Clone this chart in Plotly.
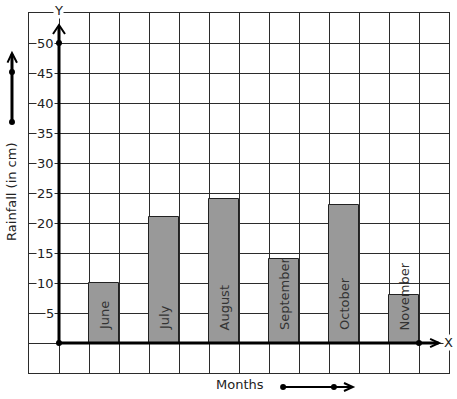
import plotly.graph_objects as go

months = ["June", "July", "August", "September", "October", "November"]
rainfall = [10, 21, 24, 14, 23, 8]
y_ticks = [5, 10, 15, 20, 25, 30, 35, 40, 45, 50]

FONT = "DejaVu Sans"
TXT = "#222222"
GRID = "#2b2b2b"

# bar centres: one empty cell between consecutive bars
xpos = [1.5 + 2 * i for i in range(len(months))]

fig = go.Figure()
fig.add_trace(go.Bar(
    x=xpos, y=rainfall, width=1,
    marker=dict(color="#999999", line=dict(color="#222222", width=1)),
    hoverinfo="skip", showlegend=False,
))
# origin / axis dots
fig.add_trace(go.Scatter(
    x=[0, 0, 12], y=[0, 50, 0], mode="markers",
    marker=dict(color="black", size=6), cliponaxis=False,
    hoverinfo="skip", showlegend=False,
))

annotations = []
for xp, m in zip(xpos, months):
    annotations.append(dict(
        x=xp, y=1.75, xref="x", yref="y", text=m, textangle=-90,
        showarrow=False, xanchor="center", yanchor="bottom",
        font=dict(family=FONT, size=13, color="#333333"),
    ))
for t in y_ticks:
    annotations.append(dict(
        x=-0.13, y=t, xref="x", yref="y", text=str(t),
        showarrow=False, xanchor="right", yanchor="middle",
        bgcolor="white", borderpad=0,
        font=dict(family=FONT, size=13, color=TXT),
    ))
annotations += [
    dict(x=0.0714, y=1.008, xref="paper", yref="paper", text="Y", showarrow=False,
         xanchor="center", yanchor="middle", bgcolor="white", borderpad=0,
         font=dict(family=FONT, size=13, color=TXT)),
    dict(x=0.998, y=(373 - 342) / 360, xref="paper", yref="paper", text="X", showarrow=False,
         xanchor="center", yanchor="middle", bgcolor="white", borderpad=0,
         font=dict(family=FONT, size=13, color=TXT)),
    dict(x=-0.0405, y=0.503, xref="paper", yref="paper", text="Rainfall (in cm)",
         textangle=-90, showarrow=False, xanchor="center", yanchor="middle",
         font=dict(family=FONT, size=13, color=TXT)),
    dict(x=0.502, y=-0.033, xref="paper", yref="paper", text="Months",
         showarrow=False, xanchor="center", yanchor="middle",
         font=dict(family=FONT, size=13, color=TXT)),
]

LW = 3
shapes = [
    # x axis
    dict(type="line", xref="x", yref="y", x0=0, y0=0, x1=12.65, y1=0,
         line=dict(color="black", width=LW), layer="above"),
    dict(type="path", xref="x", yref="y", path="M 12.37 0.7 L 12.67 0 L 12.37 -0.7",
         line=dict(color="black", width=2), layer="above"),
    # y axis
    dict(type="line", xref="x", yref="y", x0=0, y0=0, x1=0, y1=52.8,
         line=dict(color="black", width=LW), layer="above"),
    dict(type="path", xref="x", yref="y", path="M -0.2 51.5 L 0 53 L 0.2 51.5",
         line=dict(color="black", width=2), layer="above"),
    # left arrow
    dict(type="line", xref="paper", yref="paper", x0=-0.0405, y0=0.697, x1=-0.0405, y1=0.885,
         line=dict(color="black", width=LW)),
    dict(type="path", xref="paper", yref="paper",
         path="M -0.0512 0.862 L -0.0405 0.889 L -0.0286 0.862",
         line=dict(color="black", width=2)),
    dict(type="circle", xref="paper", yref="paper", x0=-0.0405 - 0.0071, x1=-0.0405 + 0.0071,
         y0=0.697 - 0.0083, y1=0.697 + 0.0083, fillcolor="black", line=dict(width=0)),
    dict(type="circle", xref="paper", yref="paper", x0=-0.0405 - 0.0071, x1=-0.0405 + 0.0071,
         y0=0.836 - 0.0083, y1=0.836 + 0.0083, fillcolor="black", line=dict(width=0)),
    # bottom arrow
    dict(type="line", xref="paper", yref="paper", x0=0.605, y0=-0.0389, x1=0.769, y1=-0.0389,
         line=dict(color="black", width=2)),
    dict(type="path", xref="paper", yref="paper",
         path="M 0.750 -0.0278 L 0.771 -0.0389 L 0.750 -0.050",
         line=dict(color="black", width=2)),
    dict(type="circle", xref="paper", yref="paper", x0=0.605 - 0.0071, x1=0.605 + 0.0071,
         y0=-0.0389 - 0.0083, y1=-0.0389 + 0.0083, fillcolor="black", line=dict(width=0)),
    dict(type="circle", xref="paper", yref="paper", x0=0.726 - 0.0071, x1=0.726 + 0.0071,
         y0=-0.0389 - 0.0083, y1=-0.0389 + 0.0083, fillcolor="black", line=dict(width=0)),
]

fig.update_layout(
    width=457, height=399,
    margin=dict(l=29, r=8, t=13, b=26),
    paper_bgcolor="white", plot_bgcolor="white",
    showlegend=False, bargap=0,
    annotations=annotations, shapes=shapes,
    xaxis=dict(range=[-1, 13], tick0=0, dtick=1, showgrid=True, gridcolor=GRID, gridwidth=1,
               showticklabels=False, ticks="", zeroline=False,
               showline=True, mirror=True, linecolor=GRID, linewidth=1, fixedrange=True),
    yaxis=dict(range=[-5, 55], tick0=0, dtick=5, showgrid=True, gridcolor=GRID, gridwidth=1,
               showticklabels=False, ticks="", zeroline=False,
               showline=True, mirror=True, linecolor=GRID, linewidth=1, fixedrange=True),
)

fig.write_html(
    "out.html",
    config={"displayModeBar": False},
    post_script="document.body.style.margin='0';document.body.style.overflow='hidden';",
)
